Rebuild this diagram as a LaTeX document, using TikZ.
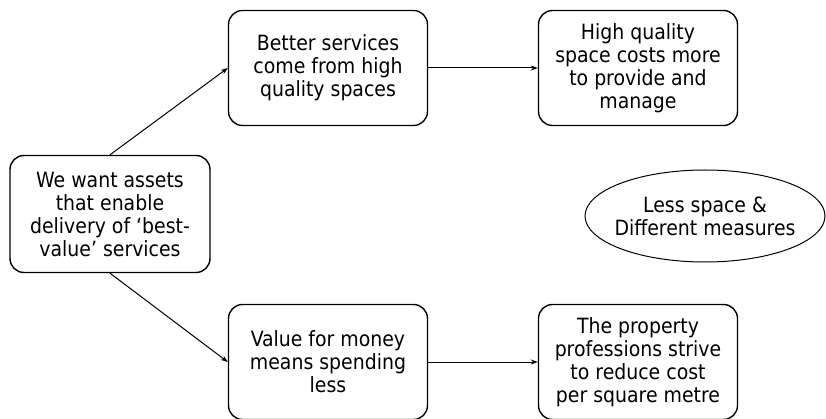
\documentclass[tikz,border=0pt]{standalone}
\usepackage{fontspec}
\setmainfont{DejaVu Sans Condensed}
\usetikzlibrary{arrows.meta, shapes.geometric}

\begin{document}
\begin{tikzpicture}[x=1pt, y=-1pt,
		box/.style={draw, line width=1.4pt, rounded corners=14pt, minimum width=199pt, minimum height=115pt, align=center, inner sep=0pt, font=\fontsize{21}{23}\selectfont},
		link/.style={-{Stealth[length=7pt, width=5pt]}, line width=1pt}]
				% Frame
				\useasboundingbox (0,0) rectangle (826,419);
				
				% Boxes
				\node[box, minimum width=200pt, minimum height=117pt] (assets) at (110,214) {We want assets\\that enable\\delivery of ‘best-\\value’ services};
				\node[box] (better) at (328,68) {Better services\\come from high\\quality spaces};
				\node[box] (costs) at (638,68) {High quality\\space costs more\\to provide and\\manage};
				\node[box] (money) at (328,362) {Value for money\\means spending\\less};
				\node[box] (strive) at (638,362) {The property\\professions strive\\to reduce cost\\per square metre};
				
				% Ellipse
				\node[draw, ellipse, line width=1pt, minimum width=240pt, minimum height=92pt, align=center, inner xsep=-12pt, inner ysep=0pt, font=\fontsize{21}{23}\selectfont] (measures) at (705,216) {Less space \&\\Different measures};
				
				% Arrows
				\draw[link] (assets.north) -- (better.west);
				\draw[link] (assets.south) -- (money.west);
				\draw[link] (better.east) -- (costs.west);
				\draw[link] (money.east) -- (strive.west);
			\end{tikzpicture}
\end{document}
